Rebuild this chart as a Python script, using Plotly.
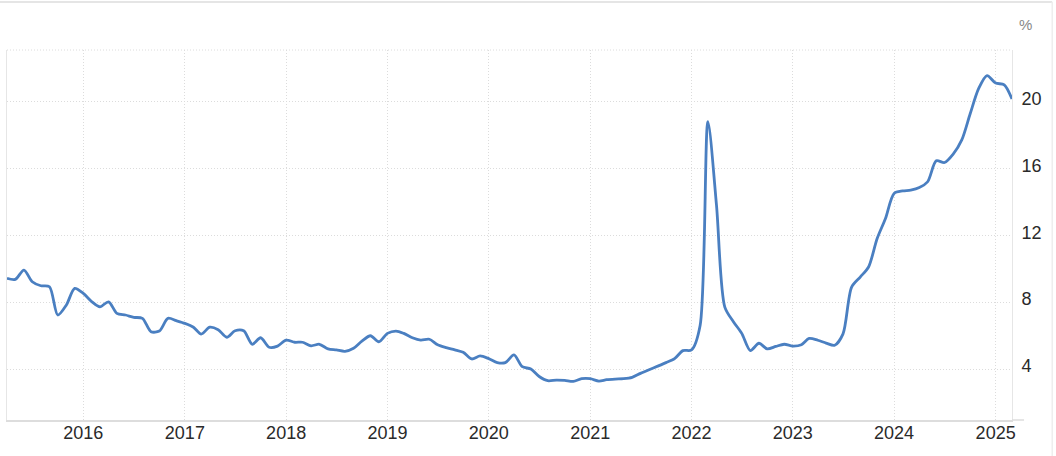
import pandas as pd
import plotly.graph_objects as go

# monthly readings, Apr 2015 .. Mar 2025
start_month = "2015-04-01"
values = [
    9.42, 9.36, 9.92, 9.22, 8.98, 8.92, 7.23, 7.83, 8.82,
    8.52, 8.02, 7.72, 8.02, 7.33, 7.23, 7.09, 7.03, 6.23, 6.27, 7.03, 6.89,
    6.73, 6.50, 6.09, 6.50, 6.35, 5.90, 6.29, 6.29, 5.48, 5.87, 5.30, 5.37,
    5.73, 5.60, 5.60, 5.39, 5.48, 5.20, 5.14, 5.06, 5.24, 5.67, 5.99, 5.63,
    6.13, 6.27, 6.13, 5.87, 5.73, 5.78, 5.45, 5.28, 5.15, 5.00, 4.60, 4.78,
    4.62, 4.38, 4.38, 4.84, 4.14, 4.00, 3.55, 3.30, 3.34, 3.32, 3.26, 3.42,
    3.42, 3.28, 3.36, 3.40, 3.42, 3.50, 3.74, 3.96, 4.17, 4.38, 4.62, 5.10,
    5.14, 6.60, 18.80, 13.80, 7.70, 6.83, 6.13, 5.10, 5.54, 5.20, 5.35, 5.48,
    5.37, 5.45, 5.83, 5.72, 5.55, 5.42, 6.10, 8.90, 9.50, 10.10, 11.80, 13.00,
    14.50, 14.65, 14.70, 14.85, 15.20, 16.45, 16.35, 16.85, 17.70, 19.25, 20.78, 21.55,
    21.10, 21.00, 20.15,
]
dates = pd.date_range(start_month, periods=len(values), freq="MS")

y_ticks = [4, 8, 12, 16, 20]
x_ticks = [str(y) for y in range(2016, 2026)]

grid = "#dcdcdc"
line_col = "#4a7fc1"

fig = go.Figure()
fig.add_trace(
    go.Scatter(
        x=dates,
        y=values,
        mode="lines",
        line=dict(color=line_col, width=2.8, shape="spline", smoothing=0.8),
        hoverinfo="skip",
    )
)

fig.update_layout(
    width=1056,
    height=456,
    margin=dict(l=7, r=44, t=50, b=36),
    paper_bgcolor="white",
    plot_bgcolor="white",
    showlegend=False,
    font=dict(family="Liberation Sans, Arial, sans-serif", size=18, color="#2a2a2a"),
    xaxis=dict(
        range=[dates[0], dates[-1]],
        tickvals=[f"{y}-01-01" for y in x_ticks],
        ticktext=x_ticks,
        showgrid=True,
        gridcolor=grid,
        griddash="1px,2px",
        gridwidth=1,
        showline=True,
        linecolor="#dddddd",
        linewidth=1.5,
        ticks="",
        ticklabelstandoff=-4,
        zeroline=False,
    ),
    yaxis=dict(
        side="right",
        range=[0.95, 23.08],
        tickvals=y_ticks,
        showgrid=True,
        gridcolor=grid,
        griddash="1px,2px",
        gridwidth=1,
        showline=True,
        mirror=True,
        linecolor="#e6e6e6",
        linewidth=1,
        ticks="",
        ticklabelstandoff=5,
        ticklabelshift=-3,
        zeroline=False,
    ),
    shapes=[
        # dotted top edge of the plot
        dict(type="line", xref="paper", yref="paper", x0=0, x1=1, y0=1, y1=1,
             line=dict(color=grid, width=1, dash="1px,2px")),
        # bottom axis runs a bit past the right edge
        dict(type="line", xref="paper", yref="paper", x0=1, x1=1.012, y0=0, y1=0,
             line=dict(color="#dddddd", width=1.5)),
        # outer frame of the page
        dict(type="line", xref="paper", yref="paper", x0=-0.01, x1=1.04,
             y0=1.13, y1=1.13, line=dict(color="#dddddd", width=1.5)),
        dict(type="line", xref="paper", yref="paper", x0=1.04, x1=1.04,
             y0=-0.2, y1=1.13, line=dict(color="#eeeeee", width=1.5)),
    ],
    annotations=[
        dict(text="%", xref="paper", yref="paper", x=1.013, y=1.068,
             xanchor="center", yanchor="middle", showarrow=False,
             font=dict(size=15, color="#888888")),
    ],
)

fig.write_html(
    "out.html",
    config={"displayModeBar": False},
    post_script="document.body.style.margin='0';",
)
